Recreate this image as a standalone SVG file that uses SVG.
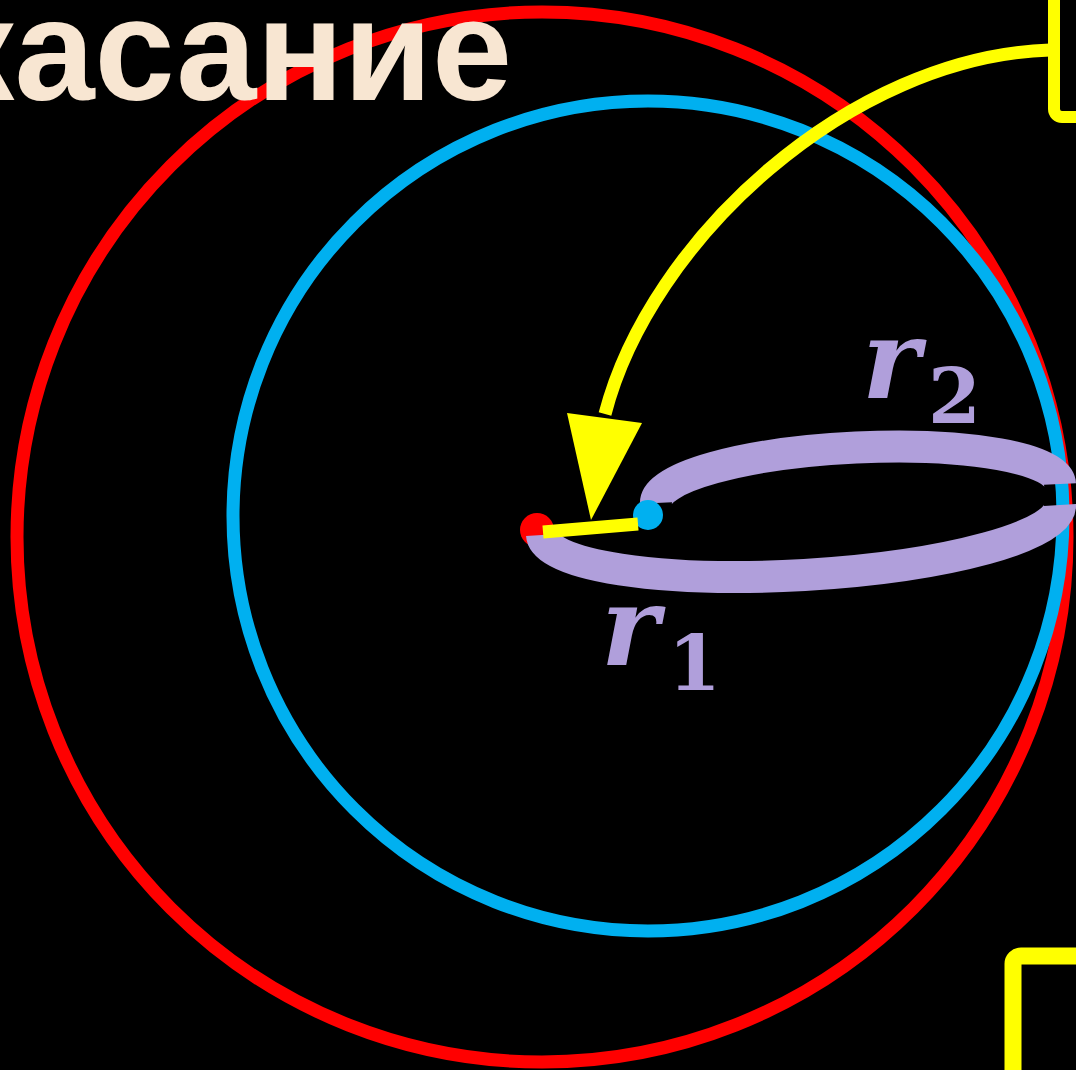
<svg xmlns="http://www.w3.org/2000/svg" width="1076" height="1070" viewBox="0 0 1076 1070">
<style>
.ring{fill:none;stroke-width:13}
.brace{fill:none;stroke:#b09fdb;stroke-width:32;stroke-linecap:butt}
.lbl{fill:#b09fdb;font-family:"DejaVu Serif","Liberation Serif",serif}
.box{fill:none;stroke:#ffff00}
</style>
<rect width="1076" height="1070" fill="#000"/>
<g id="outer-circle"><circle class="ring" cx="542" cy="537" r="525" stroke="#ff0000"/></g>
<g id="inner-circle"><circle class="ring" cx="648" cy="516" r="415" stroke="#00b0f0"/></g>
<g id="title"><text x="512" y="100" text-anchor="end" font-family="'Liberation Sans',Arial,sans-serif" font-weight="bold" font-size="144" fill="#f8e6d2">касание</text></g>
<g id="box-top"><rect class="box" x="1054" y="-60" width="120" height="177" rx="8" stroke-width="12"/></g>
<g id="box-bottom"><rect class="box" x="1013" y="956" width="120" height="160" rx="8" stroke-width="17"/></g>
<g id="center-red"><circle cx="537" cy="530" r="17" fill="#ff0000"/></g>
<g id="r1-brace"><path class="brace" d="M542,535 A259,55 -3.3 0 0 1060,505"/></g>
<g id="r2-brace"><path class="brace" d="M656,503 A202,46 -2.7 0 1 1060,484"/></g>
<g id="center-blue"><circle cx="648" cy="515" r="15" fill="#00b0f0"/></g>
<g id="distance"><line x1="543" y1="532" x2="638" y2="524" stroke="#ffff00" stroke-width="13"/></g>
<g id="connectors">
<path d="M1050,50 C850,56 650,240 605,414" fill="none" stroke="#ffff00" stroke-width="13"/>
<polygon points="567,413 642,423 591,520" fill="#ffff00"/>
</g>
<g id="label-r2"><text class="lbl" x="862" y="398" font-size="110" font-style="italic" font-weight="bold">r</text><text class="lbl" x="928" y="423" font-size="76" font-weight="bold">2</text></g>
<g id="label-r1"><text class="lbl" x="601" y="665" font-size="110" font-style="italic" font-weight="bold">r</text><text class="lbl" x="668" y="690" font-size="76" font-weight="bold">1</text></g>
</svg>
